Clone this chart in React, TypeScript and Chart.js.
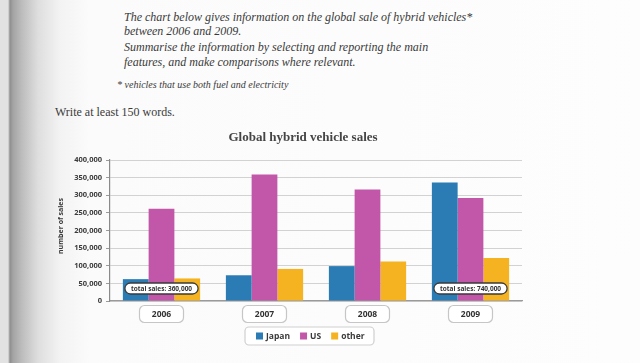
import React, { useEffect, useRef } from "react";
import { Chart, registerables } from "chart.js";

Chart.register(...registerables);

const categories = ["2006", "2007", "2008", "2009"];
const seriesNames = ["Japan", "US", "other"];
const japanSales = [62000, 73000, 99000, 336000];
const usSales = [262000, 359000, 316000, 292000];
const otherSales = [64000, 91000, 112000, 122000];
const seriesColors = ["#2b7bb4", "#c256a9", "#f5b321"];
const yTickLabels = ["0", "50,000", "100,000", "150,000", "200,000", "250,000", "300,000", "350,000", "400,000"];
const totalLabels = ["total sales: 360,000", "", "", "total sales: 740,000"];
const chartTitle = "Global hybrid vehicle sales";
const yAxisTitle = "number of sales";
const promptLines = [
  "The chart below gives information on the global sale of hybrid vehicles*",
  "between 2006 and 2009.",
  "Summarise the information by selecting and reporting the main",
  "features, and make comparisons where relevant.",
];
const footnote = "* vehicles that use both fuel and electricity";
const instruction = "Write at least 150 words.";

const SANS = '"Open Sans", "Liberation Sans", sans-serif';
const SERIF = '"Liberation Serif", "DejaVu Serif", serif';

const decorPlugin = {
  id: "decor",
  afterDatasetsDraw(chart: any) {
    const ctx = chart.ctx;
    const x = chart.scales.x;
    const area = chart.chartArea;
    ctx.save();
    ctx.font = `bold 6.5px ${SANS}`;
    ctx.textAlign = "center";
    ctx.textBaseline = "middle";
    totalLabels.forEach((t, i) => {
      if (!t) return;
      const cx = x.getPixelForValue(i);
      const cy = area.bottom - 12.5;
      const w = ctx.measureText(t).width + 12;
      const h = 11;
      ctx.beginPath();
      ctx.roundRect(cx - w / 2, cy - h / 2, w, h, 5.5);
      ctx.fillStyle = "#ffffff";
      ctx.fill();
      ctx.lineWidth = 1.3;
      ctx.strokeStyle = "#3a3a3a";
      ctx.stroke();
      ctx.fillStyle = "#333";
      ctx.fillText(t, cx, cy + 0.5);
    });
    ctx.restore();
  },
  afterDraw(chart: any) {
    const ctx = chart.ctx;
    const x = chart.scales.x;
    const area = chart.chartArea;
    ctx.save();
    // title
    ctx.font = `bold 13px ${SERIF}`;
    ctx.fillStyle = "#454545";
    ctx.textAlign = "center";
    ctx.textBaseline = "middle";
    ctx.fillText(chartTitle, 303, 138);
    // y axis title
    ctx.save();
    ctx.translate(61, 226);
    ctx.rotate(-Math.PI / 2);
    ctx.font = `bold 7px ${SANS}`;
    ctx.fillStyle = "#3a3a3a";
    ctx.fillText(yAxisTitle, 0, 0);
    ctx.restore();
    // category boxes
    ctx.font = `bold 8.5px ${SANS}`;
    categories.forEach((c, i) => {
      const cx = x.getPixelForValue(i);
      const cy = area.bottom + 13;
      const w = 44;
      const h = 17;
      ctx.beginPath();
      ctx.roundRect(cx - w / 2, cy - h / 2, w, h, 5);
      ctx.fillStyle = "#ffffff";
      ctx.fill();
      ctx.lineWidth = 1.2;
      ctx.strokeStyle = "#c6c6c6";
      ctx.stroke();
      ctx.fillStyle = "#333";
      ctx.fillText(c, cx, cy + 0.5);
    });
    // legend
    const lx = 245, ly = 327, lw = 129, lh = 18;
    ctx.beginPath();
    ctx.roundRect(lx, ly, lw, lh, 4);
    ctx.fillStyle = "#ffffff";
    ctx.fill();
    ctx.lineWidth = 1.2;
    ctx.strokeStyle = "#cfcfcf";
    ctx.stroke();
    ctx.font = `bold 8.5px ${SANS}`;
    ctx.textAlign = "left";
    let cur = 256;
    const cy = ly + lh / 2;
    seriesNames.forEach((n, i) => {
      ctx.fillStyle = seriesColors[i];
      ctx.fillRect(cur, cy - 3.5, 7, 7);
      cur += 10;
      ctx.fillStyle = "#3a3a3a";
      ctx.fillText(n, cur, cy + 0.5);
      cur += ctx.measureText(n).width + 10;
    });
    ctx.restore();
  },
};

export default function App() {
  const ref = useRef<HTMLCanvasElement | null>(null);
  useEffect(() => {
    if (!ref.current) return;
    const series = [japanSales, usSales, otherSales];
    const chart = new Chart(ref.current, {
      type: "bar",
      data: {
        labels: categories,
        datasets: series.map((d, i) => ({
          label: seriesNames[i],
          data: d,
          backgroundColor: seriesColors[i],
          borderWidth: 0,
          categoryPercentage: 0.75,
          barPercentage: 1.0,
        })),
      },
      options: {
        responsive: false,
        animation: false,
        layout: { padding: { top: 160, right: 118, bottom: 0, left: 0 } },
        plugins: { legend: { display: false }, title: { display: false }, tooltip: { enabled: false } },
        scales: {
          x: {
            grid: { display: false },
            border: { display: true, color: "#9a9a9a", width: 1.2 },
            ticks: { display: false },
            afterFit(scale: any) {
              scale.height = 62;
            },
          },
          y: {
            min: 0,
            max: 400000,
            grid: { color: "#d2d2d2", lineWidth: 1, tickLength: 4, tickColor: "#9a9a9a" },
            border: { display: true, color: "#8a8a8a", width: 1.2 },
            ticks: {
              stepSize: 50000,
              padding: 4,
              color: "#3a3a3a",
              font: { family: SANS, size: 7.5, weight: "bold" },
              callback: (_v: any, i: number) => yTickLabels[i],
            },
            afterFit(scale: any) {
              scale.width = 110;
            },
          },
        },
      },
      plugins: [decorPlugin],
    });
    return () => chart.destroy();
  }, []);

  const textBase: React.CSSProperties = {
    position: "absolute",
    fontFamily: SERIF,
    color: "#3a3a3a",
    whiteSpace: "nowrap",
    lineHeight: "14px",
  };

  return (
    <div
      style={{
        position: "fixed",
        left: 0,
        top: 0,
        width: 640,
        height: 363,
        overflow: "hidden",
        background:
          "linear-gradient(to right, #e2e2e2 0px, #e2e2e2 8px, #8e8e8e 10px, #a4a4a4 13px, #bdbdbd 22px, #dedede 38px, #f3f3f3 60px, #fbfbfb 90px, #fdfdfd 640px)",
      }}
    >
      {promptLines.map((t, i) => (
        <div key={i} style={{ ...textBase, left: 124, top: [10, 24, 40, 55][i], fontSize: 12, fontStyle: "italic" }}>
          {t}
        </div>
      ))}
      <div style={{ ...textBase, left: 117, top: 78, fontSize: 10, fontStyle: "italic" }}>{footnote}</div>
      <div style={{ ...textBase, left: 55, top: 105, fontSize: 12 }}>{instruction}</div>
      <canvas ref={ref} width={640} height={363} style={{ position: "absolute", left: 0, top: 0 }} />
    </div>
  );
}
